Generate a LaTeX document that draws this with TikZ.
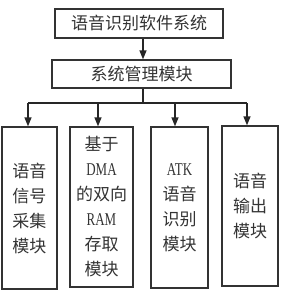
\documentclass[tikz,border=0pt]{standalone}
\usepackage{fontspec}
\setmainfont{Liberation Serif}
\newfontfamily\cjk{Noto Sans CJK SC}
\usepackage{tikz}
\usetikzlibrary{arrows.meta,positioning,calc}

\newcommand{\lat}[1]{{\normalfont\fontsize{18}{25}\selectfont\scalebox{0.72}[1]{#1}}}

\begin{document}
\begin{tikzpicture}[
    x=1pt, y=-1pt,
    font={\cjk\fontsize{17}{25}\selectfont},
    box/.style={
        draw=black!80,
        line width=1.3pt,
        inner sep=0pt,
        align=center,
        text=black!80
    },
    arr/.style={-{Triangle[length=9pt,width=7pt]}, line width=1.3pt, draw=black!85},
    bus/.style={line width=1.3pt, draw=black!85}
]
\useasboundingbox (0,0) rectangle (284,303);

% top and management level
\node[box, minimum width=168pt, minimum height=29pt] (sys) at (139,23.5) {语音识别软件系统};
\node[box, minimum width=179pt, minimum height=28pt] (mgr) at (141.5,74) {系统管理模块};

% module row
\node[box, minimum width=55pt, minimum height=162pt] (sig) at (29.5,208)
{语音\\信号\\采集\\模块};
\node[box, minimum width=63pt, minimum height=160pt] (ram) at (101.5,207)
{基于\\\lat{DMA}\\的双向\\\lat{RAM}\\存取\\模块};
\node[box, minimum width=57pt, minimum height=161pt] (atk) at (179.5,207.5)
{\lat{ATK}\\语音\\识别\\模块};
\node[box, minimum width=56pt, minimum height=160pt] (out) at (250,206)
{语音\\输出\\模块};

% bus coordinates
\coordinate (stem) at (143,103);
\coordinate (d1) at (28,103);
\coordinate (d2) at (98,103);
\coordinate (d3) at (175,103);
\coordinate (d4) at (247,103);

\draw[arr] (sys.south -| stem) -- (mgr.north -| stem);
\draw[bus] (mgr.south -| stem) -- (stem);
\draw[bus] (d1) -- (d4);
\draw[arr] (d1) -- (d1 |- sig.north);
\draw[arr] (d2) -- (d2 |- ram.north);
\draw[arr] (d3) -- (d3 |- atk.north);
\draw[arr] (d4) -- (d4 |- out.north);

\end{tikzpicture}
\end{document}
